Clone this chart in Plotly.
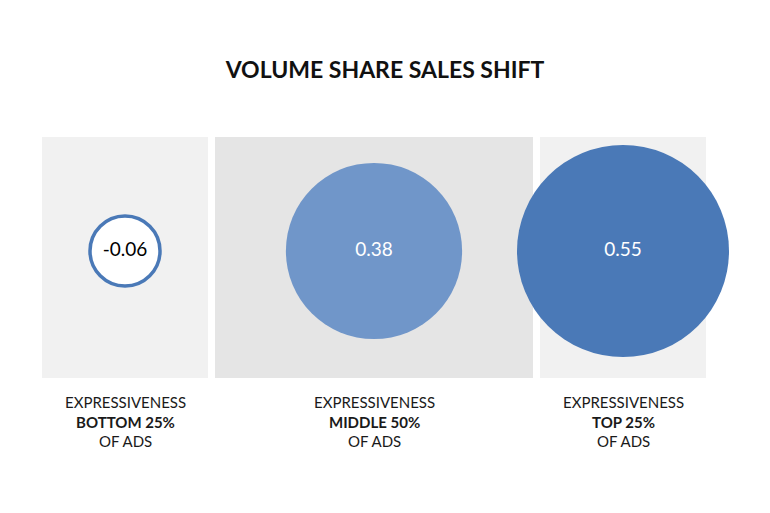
import plotly.graph_objects as go

# data
groups = ["BOTTOM 25%", "MIDDLE 50%", "TOP 25%"]
shift = [-0.06, 0.38, 0.55]

# panel geometry in page pixels (axes map 1:1 onto the page)
panel_left = [42, 215, 540]
panel_right = [208, 533, 706]
panel_top, panel_bottom = 137, 378
panel_colors = ["#f1f1f1", "#e5e5e5", "#f1f1f1"]

centers = [(l + r) / 2 for l, r in zip(panel_left, panel_right)]
widths = [r - l for l, r in zip(panel_left, panel_right)]

BLUE = "#4a79b7"
fill_colors = ["white", "#7096c9", BLUE]
text_colors = ["black", "white", "white"]
outline_w = [3.5, 0, 0]

max_diam = 212
sizeref = 2 * max(abs(v) for v in shift) / max_diam ** 2

# the page body has an 8px margin, shift the axes to compensate
OFF = 8
W, H = 770, 513

fig = go.Figure()

# grey backdrop panels
fig.add_trace(go.Bar(
    x=centers, width=widths,
    base=[panel_top] * 3, y=[panel_bottom - panel_top] * 3,
    marker={"color": panel_colors, "line": {"width": 0}},
    hoverinfo="skip",
))

# bubbles, area ~ |shift|
fig.add_trace(go.Scatter(
    x=centers, y=[251] * 3,
    mode="markers+text",
    text=[f"{v:.2f}" for v in shift],
    textposition="middle center",
    textfont={"family": "Lato", "size": 19, "color": text_colors},
    marker={
        "size": [abs(v) for v in shift],
        "sizemode": "area",
        "sizeref": sizeref,
        "color": fill_colors,
        "opacity": 1,
        "line": {"color": BLUE, "width": outline_w},
    },
    cliponaxis=False,
    hoverinfo="skip",
))

label_font = {"family": "Lato", "size": 15, "color": "#1a1a1a"}
for cx, g in zip(centers, groups):
    lines = ["EXPRESSIVENESS", f"<b>{g}</b>", "OF ADS"]
    for ly, txt in zip([402, 421.5, 441], lines):
        fig.add_annotation(
            x=cx, y=ly, xref="x", yref="y",
            text=txt, showarrow=False,
            xanchor="center", yanchor="middle",
            font=label_font,
        )

fig.update_layout(
    width=W, height=H,
    margin={"l": 0, "r": 0, "t": 0, "b": 0},
    paper_bgcolor="white", plot_bgcolor="white",
    showlegend=False,
    bargap=0,
    title={
        "text": "<b>VOLUME SHARE SALES SHIFT</b>",
        "x": 0.5 - OFF / W, "xanchor": "center",
        "y": 1 - (70 - OFF) / H, "yanchor": "middle",
        "font": {"family": "Lato", "size": 23, "color": "#111111"},
    },
    xaxis={"range": [OFF, W + OFF], "visible": False, "fixedrange": True},
    yaxis={"range": [H + OFF, OFF], "visible": False, "fixedrange": True},
)

fig.write_html("out.html")
